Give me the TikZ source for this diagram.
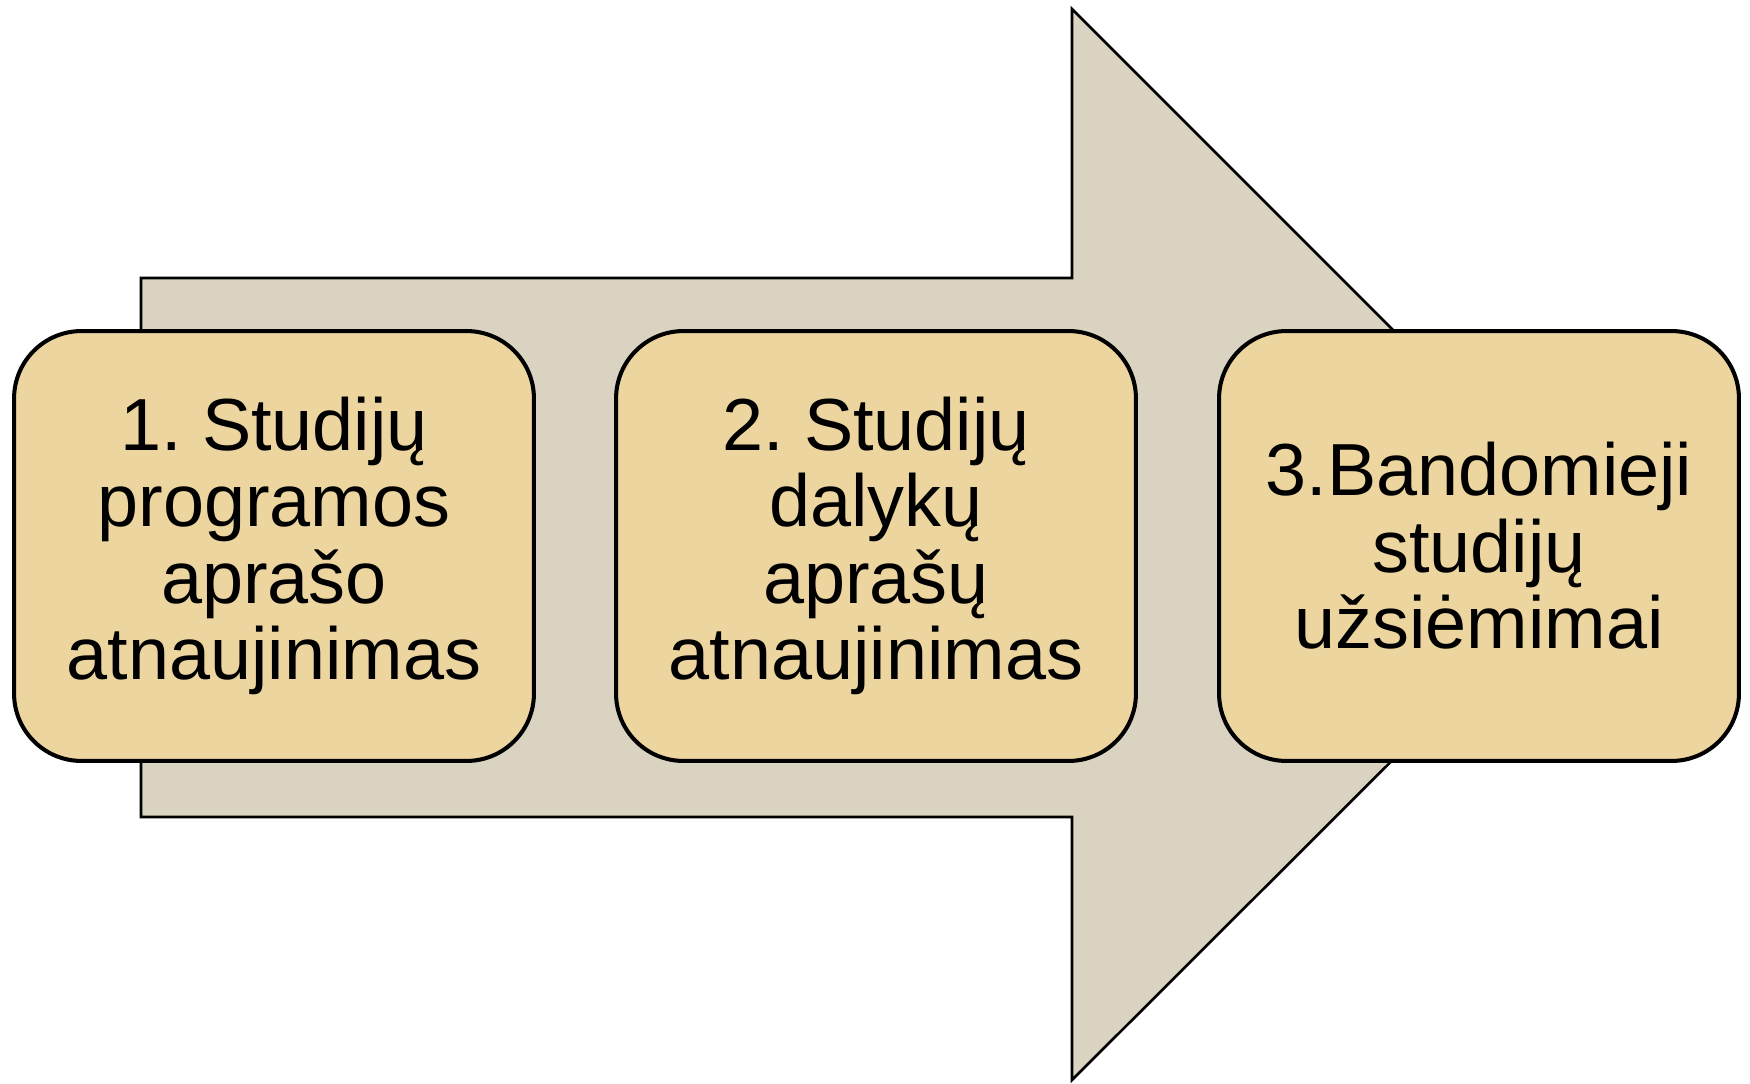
\documentclass[tikz,border=0pt]{standalone}
\usepackage{fontspec}
\setmainfont{Liberation Sans}
\usepackage{tikz}
\definecolor{linen}{RGB}{219, 211, 193}
\definecolor{papyrus}{RGB}{236, 213, 158}
\frenchspacing

\begin{document}
\begin{tikzpicture}[x = 0.02cm, y = -0.02cm,
			stepbox/.style = {draw, line width = 2.3pt, rounded corners = 1.35cm, fill = papyrus,
				minimum width = 10.4cm, minimum height = 8.6cm, align = center,
				font = \fontsize{42}{43.5}\selectfont}]
			\useasboundingbox (0,0) rectangle (1750,1084);
			% big arrow behind the boxes
			\draw[line width = 1.5pt, fill = linen] (141,278) -- (1072,278) -- (1072,9)
				-- (1608,545) -- (1072,1080) -- (1072,817) -- (141,817) -- cycle;
			\node (s1) at (274,546) [stepbox] {1. Studijų\\programos\\aprašo\\atnaujinimas};
			\node (s2) at (876,546) [stepbox] {2. Studijų\\dalykų\\aprašų\\atnaujinimas};
			\node (s3) at (1479,546) [stepbox] {3.Bandomieji\\studijų\\užsiėmimai};
			\end{tikzpicture}
\end{document}
